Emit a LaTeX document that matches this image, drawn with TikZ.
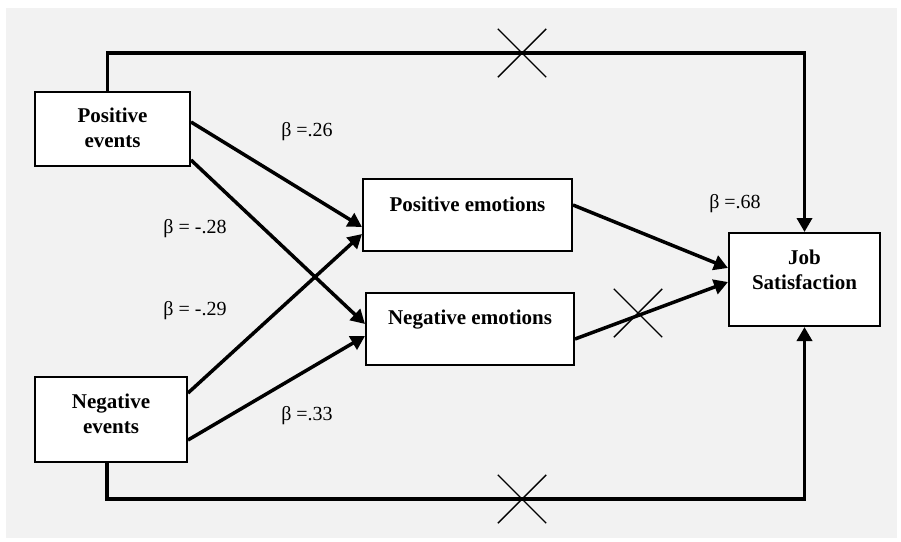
\documentclass[tikz,border=0pt]{standalone}
\usepackage{fontspec}
\setmainfont{Liberation Serif}
\usetikzlibrary{arrows.meta,shapes.misc}
\definecolor{fondo}{HTML}{F2F2F2}

\begin{document}
\begin{tikzpicture}[x=1pt, y=1pt,
  caja/.style={draw, line width=2pt, fill=white, align=center, inner xsep=0pt, inner ysep=0pt,
    font=\bfseries\fontsize{21}{25}\selectfont},
  coef/.style={font=\fontsize{20}{24}\selectfont},
  fl/.style={-{Triangle[length=14pt, width=15pt]}, line width=3.5pt},
  cruz/.style={cross out, draw, line width=1.4pt, minimum size=47pt, inner sep=0pt}]
  \useasboundingbox[fill=white] (0,0) rectangle (901,-541);
  \fill[fondo] (6,-8) rectangle (897,-538);
  % variables
  \node[caja, minimum width=155pt, text height=55pt, text depth=19pt] (pe) at (112.5,-129) {Positive\\events};
  \node[caja, minimum width=152pt, text height=56pt, text depth=29pt] (ne) at (111,-419.5) {Negative\\events};
  \node[caja, minimum width=209pt, text height=32pt, text depth=40pt] (pm) at (467.5,-215) {Positive emotions};
  \node[caja, minimum width=208pt, text height=31pt, text depth=41pt] (nm) at (470,-329) {Negative emotions};
  \node[caja, minimum width=151pt, text height=56pt, text depth=37pt] (js) at (804.5,-279.5) {Job\\Satisfaction};
  % paths
  \coordinate (arriba) at (0,-53);
  \coordinate (abajo) at (0,-499);
  \draw[fl] ([xshift=-5pt]pe.north) -- ([xshift=-5pt]pe.north |- arriba) -| (js.north);
  \draw[fl] ([xshift=-4pt]ne.south) -- ([xshift=-4pt]ne.south |- abajo) -| (js.south);
  \draw[fl] ([yshift=7pt]pe.east) -- ([yshift=-12pt]pm.west);
  \draw[fl] ([yshift=-31pt]pe.east) -- ([yshift=5pt]nm.west);
  \draw[fl] ([yshift=26.5pt]ne.east) -- ([yshift=-19pt]pm.west);
  \draw[fl] ([yshift=-20.5pt]ne.east) -- ([yshift=-7pt]nm.west);
  \draw[fl] ([yshift=10pt]pm.east) -- ([yshift=11.5pt]js.west);
  \draw[fl] ([yshift=-10pt]nm.east) -- ([yshift=-2.5pt]js.west);
  % non significant paths
  \node[cruz] (x1) at (522,-53) {};
  \node[cruz] (x2) at (522,-499) {};
  \node[cruz] (x3) at (638,-313) {};
  % coefficients
  \node[coef] (b1) at (307,-132) {β =.26};
  \node[coef] (b2) at (195,-229) {β = -.28};
  \node[coef] (b3) at (195,-311) {β = -.29};
  \node[coef] (b4) at (307,-416) {β =.33};
  \node[coef] (b5) at (735,-204) {β =.68};
\end{tikzpicture}
\end{document}
